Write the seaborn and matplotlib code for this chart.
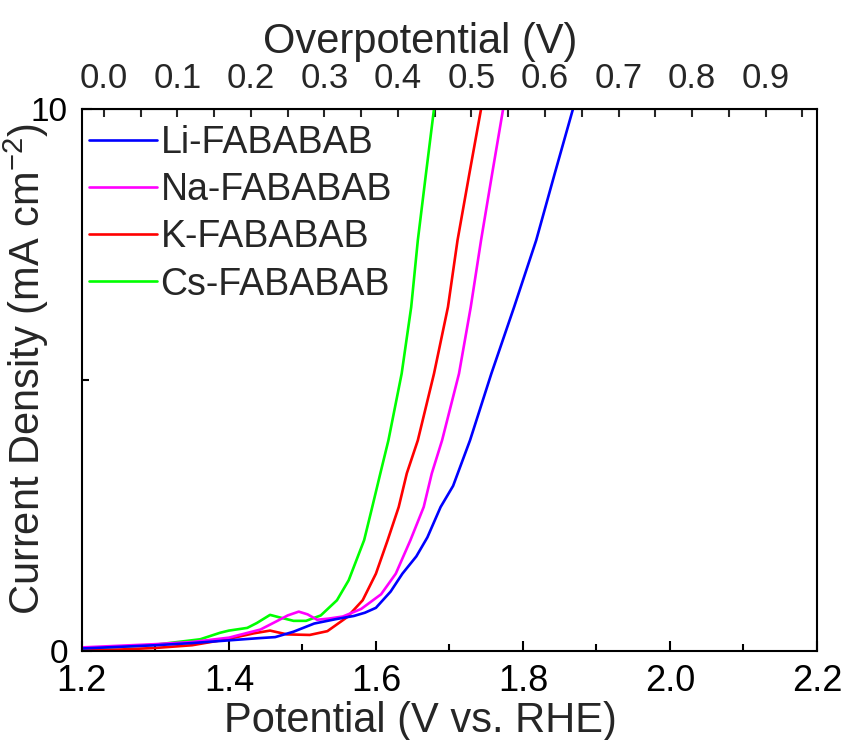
import numpy as np
import pandas as pd
import seaborn as sns
import matplotlib.pyplot as plt
from matplotlib.ticker import MultipleLocator, FormatStrFormatter

# Dados (potencial em V vs. RHE, densidade de corrente em mA cm-2)
li_v = [1.20, 1.25, 1.30, 1.35, 1.40, 1.44, 1.463, 1.488, 1.516, 1.545, 1.57, 1.585, 1.60,
        1.62, 1.636, 1.655, 1.67, 1.688, 1.705, 1.728, 1.757, 1.788, 1.818, 1.843, 1.868, 1.871]
li_j = [0.05, 0.08, 0.11, 0.15, 0.20, 0.24, 0.26, 0.36, 0.51, 0.59, 0.65, 0.71, 0.80,
        1.10, 1.43, 1.75, 2.10, 2.66, 3.05, 3.89, 5.12, 6.35, 7.58, 8.80, 10.0, 10.15]

na_v = [1.20, 1.25, 1.30, 1.35, 1.40, 1.443, 1.466, 1.48, 1.495, 1.507, 1.52, 1.535, 1.555,
        1.58, 1.607, 1.627, 1.647, 1.665, 1.676, 1.690, 1.713, 1.729, 1.743, 1.758, 1.773, 1.775]
na_j = [0.07, 0.10, 0.13, 0.17, 0.25, 0.40, 0.56, 0.66, 0.73, 0.68, 0.58, 0.60, 0.64,
        0.78, 1.05, 1.43, 2.05, 2.66, 3.28, 3.89, 5.12, 6.35, 7.58, 8.80, 10.0, 10.15]

k_v = [1.20, 1.25, 1.30, 1.35, 1.397, 1.434, 1.456, 1.479, 1.51, 1.534, 1.561, 1.582,
       1.60, 1.616, 1.631, 1.642, 1.657, 1.679, 1.698, 1.711, 1.727, 1.743, 1.745]
k_j = [0.01, 0.03, 0.06, 0.11, 0.22, 0.33, 0.38, 0.31, 0.30, 0.37, 0.63, 0.94,
       1.43, 2.05, 2.66, 3.28, 3.89, 5.12, 6.35, 7.58, 8.80, 10.0, 10.15]

cs_v = [1.20, 1.25, 1.30, 1.361, 1.388, 1.40, 1.425, 1.438, 1.456, 1.47, 1.488, 1.505,
        1.525, 1.547, 1.563, 1.584, 1.595, 1.606, 1.617, 1.635, 1.648, 1.657, 1.668, 1.679, 1.681]
cs_j = [0.05, 0.08, 0.12, 0.22, 0.34, 0.38, 0.43, 0.52, 0.67, 0.62, 0.56, 0.56,
        0.66, 0.94, 1.31, 2.05, 2.66, 3.28, 3.89, 5.12, 6.35, 7.58, 8.80, 10.0, 10.15]

amostras = ['Li-FABABAB', 'Na-FABABAB', 'K-FABABAB', 'Cs-FABABAB']
cores = ['#0000FF', '#FF00FF', '#FF0000', '#00FF00']
E_EQ = 1.23  # potencial de equilíbrio para o sobrepotencial

# Montar tabela longa
partes = []
for nome, v, j in zip(amostras, [li_v, na_v, k_v, cs_v], [li_j, na_j, k_j, cs_j]):
    partes.append(pd.DataFrame({'Potencial': v, 'J': j, 'Amostra': nome}))
df = pd.concat(partes, ignore_index=True)

sns.set_style("ticks")
plt.rcParams['font.family'] = ['Liberation Sans', 'DejaVu Sans']
plt.rcParams['mathtext.default'] = 'regular'

fig = plt.figure(figsize=(8.44, 7.4), dpi=100)
ax = fig.add_axes([0.097, 0.12, 0.871, 0.7325])

# desenhar Cs primeiro e Li por cima
sns.lineplot(data=df, x='Potencial', y='J', hue='Amostra',
             hue_order=amostras[::-1], palette=cores[::-1],
             sort=False, estimator=None, linewidth=1.9, ax=ax)

ax.set_xlim(1.2, 2.2)
ax.set_ylim(0, 10)
ax.xaxis.set_major_locator(MultipleLocator(0.2))
ax.xaxis.set_minor_locator(MultipleLocator(0.1))
ax.xaxis.set_major_formatter(FormatStrFormatter('%.1f'))
ax.set_yticks([0, 10])
ax.yaxis.set_minor_locator(MultipleLocator(5))
ax.tick_params(which='both', direction='in', width=1.5, colors='black')
ax.tick_params(which='major', length=7)
ax.tick_params(which='minor', length=5)
ax.tick_params(axis='x', labelsize=26, pad=9)
ax.tick_params(axis='y', labelsize=24, pad=10)
for s in ax.spines.values():
    s.set_linewidth(1.5)
    s.set_color('black')

ax.set_xlabel('Potential (V vs. RHE)', fontsize=30)
ax.xaxis.set_label_coords(0.46, -0.092)
ax.set_ylabel('Current Density (mA cm$^{-2}$)', fontsize=30)
ax.yaxis.set_label_coords(-0.042, 0.52)

# eixo superior: sobrepotencial
top = ax.secondary_xaxis('top', functions=(lambda v: v - E_EQ, lambda e: e + E_EQ))
top.set_xticks(np.arange(0, 0.95, 0.1))
top.xaxis.set_minor_locator(MultipleLocator(0.05))
top.xaxis.set_major_formatter(FormatStrFormatter('%.1f'))
top.tick_params(which='both', direction='in', width=1.5, length=6, labelsize=25, pad=10)
top.set_xlabel('Overpotential (V)', fontsize=30)
top.xaxis.set_label_coords(0.46, 1.104, transform=ax.transAxes)

handles, labels = ax.get_legend_handles_labels()
ax.legend(handles[::-1], labels[::-1], loc='upper left', frameon=False,
          fontsize=27, handlelength=1.8, handletextpad=0.1, labelspacing=0.3,
          borderpad=0.2, borderaxespad=0.0, bbox_to_anchor=(0.0, 0.985))
for ln in ax.get_legend().get_lines():
    ln.set_linewidth(1.9)

fig.savefig('out.png', dpi=100, facecolor='white')
